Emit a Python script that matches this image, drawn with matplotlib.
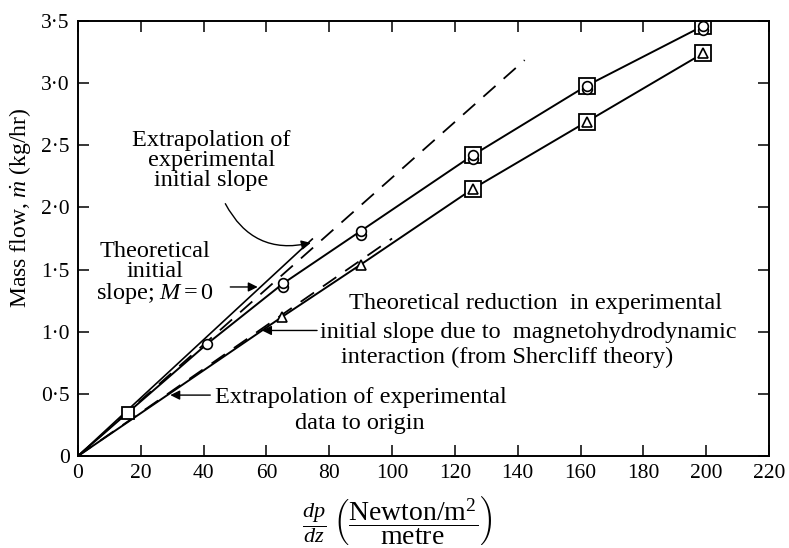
import numpy as np
import matplotlib
matplotlib.use("Agg")
import matplotlib.pyplot as plt

plt.rcParams['font.family'] = ['Liberation Serif', 'DejaVu Serif']
plt.rcParams['mathtext.fontset'] = 'custom'
plt.rcParams['mathtext.rm'] = 'Liberation Serif'
plt.rcParams['mathtext.it'] = 'Liberation Serif:italic'

# measured points, circles (upper run) and triangles (lower run)
x_circ = [15.9, 41, 65.4, 90, 125.7, 162, 199]
y_circ = [0.35, 0.90, 1.39, 1.81, 2.42, 2.98, 3.46]
y_circ_b = [0.35, 0.90, 1.36, 1.78, 2.39, 2.95, 3.43]   # repeat run, just below
x_tri = [65, 90, 125.7, 162, 199]
y_tri = [1.12, 1.54, 2.15, 2.69, 3.24]
x_box = [125.7, 162, 199]

# straight reference lines from origin (slope, end x)
theory_slope, theory_end = 0.0234, 74.6
extrap_slope, extrap_end = 0.0224, 142.2
shercliff_slope, shercliff_end = 0.0175, 100.0

xticks = [0, 20, 40, 60, 80, 100, 120, 140, 160, 180, 200, 220]
yticks = [0, 0.5, 1.0, 1.5, 2.0, 2.5, 3.0, 3.5]
ylabels = ['0', '0·5', '1·0', '1·5', '2·0', '2·5', '3·0', '3·5']

fig = plt.figure(figsize=(7.89, 5.48), dpi=100)
ax = fig.add_axes([78 / 789, 92 / 548, 691 / 789, 435 / 548])

lw = 1.4
# data curves
ax.plot([0] + x_circ, [0] + y_circ, color='k', lw=lw)
ax.plot([0] + x_tri, [0] + y_tri, color='k', lw=lw)

# reference lines
xt = np.array([0, theory_end])
ax.plot(xt, theory_slope * xt, color='k', lw=1.2)
xe = np.array([0, extrap_end])
ax.plot(xe, extrap_slope * xe, color='k', lw=1.3, dashes=(9, 6))
xs = np.array([0, shercliff_end])
ax.plot(xs, shercliff_slope * xs, color='k', lw=1.3, dashes=(9, 6))

# markers
ax.plot(x_box, y_circ[-3:], ls='none', marker='s', ms=11, mfc='white', mec='k', mew=1.3)
ax.plot(x_box, y_tri[-3:], ls='none', marker='s', ms=11, mfc='white', mec='k', mew=1.3)
ax.plot(x_circ[:1], y_circ[:1], ls='none', marker='s', ms=8, mfc='white', mec='k', mew=1.3)
ax.plot(x_circ[2:], y_circ_b[2:], ls='none', marker='o', ms=7, mfc='white', mec='k', mew=1.2)
ax.plot(x_circ[1:], y_circ[1:], ls='none', marker='o', ms=7, mfc='white', mec='k', mew=1.2)
ax.plot(x_tri, y_tri, ls='none', marker='^', ms=7.5, mfc='white', mec='k', mew=1.2)

# annotations
fs = 17.5
ls3 = 0.95
ax.text(42.5, 2.38, 'Extrapolation of\nexperimental\ninitial slope', ha='center', va='center',
        fontsize=fs, linespacing=ls3)
ax.annotate('', xy=(75, 1.72), xytext=(46.5, 2.05),
            arrowprops=dict(arrowstyle='-|>', color='k', lw=1.0, mutation_scale=14,
                            connectionstyle='arc3,rad=0.4'))

ax.text(24.5, 1.47, 'Theoretical\ninitial\nslope; $M = 0$', ha='center', va='center',
        fontsize=fs, linespacing=ls3)
ax.annotate('', xy=(58.1, 1.36), xytext=(47.6, 1.36),
            arrowprops=dict(arrowstyle='-|>', color='k', lw=1.0, mutation_scale=14))

ax.text(86.3, 1.23, 'Theoretical reduction  in experimental', ha='left', va='center', fontsize=fs)
ax.text(77.2, 0.99, 'initial slope due to  magnetohydrodynamic', ha='left', va='center', fontsize=fs)
ax.text(83.8, 0.79, 'interaction (from Shercliff theory)', ha='left', va='center', fontsize=fs)
ax.annotate('', xy=(57.7, 1.01), xytext=(77.0, 1.01),
            arrowprops=dict(arrowstyle='-|>', color='k', lw=1.0, mutation_scale=14))

ax.text(43.5, 0.47, 'Extrapolation of experimental', ha='left', va='center', fontsize=fs)
ax.text(69.0, 0.265, 'data to origin', ha='left', va='center', fontsize=fs)
ax.annotate('', xy=(28.5, 0.49), xytext=(43.0, 0.49),
            arrowprops=dict(arrowstyle='-|>', color='k', lw=1.0, mutation_scale=14))

# axes
ax.set_xlim(0, 220)
ax.set_ylim(0, 3.5)
ax.set_xticks(xticks)
ax.set_xticklabels([str(t) for t in xticks], fontsize=15.5)
ax.set_yticks(yticks)
ax.set_yticklabels(ylabels, fontsize=15.5)
ax.tick_params(direction='in', length=8, width=1.1, top=True, right=True, pad=6)
for s in ax.spines.values():
    s.set_linewidth(1.4)

ax.set_ylabel(r'Mass flow, $\dot{m}$ (kg/hr)', fontsize=17)
ax.yaxis.set_label_coords(-0.065, 0.57)

# x label: dp/dz and the units in brackets
fig.text(314 / 789, 0.046, r'$\dfrac{dp}{dz}$', fontsize=16, ha='center', va='center')
fig.text(413 / 789, 0.050, r'$\left(\dfrac{\mathrm{Newton/m^2}}{\mathrm{metre}}\right)$',
         fontsize=20, ha='center', va='center')

fig.savefig('out.png', dpi=100)
